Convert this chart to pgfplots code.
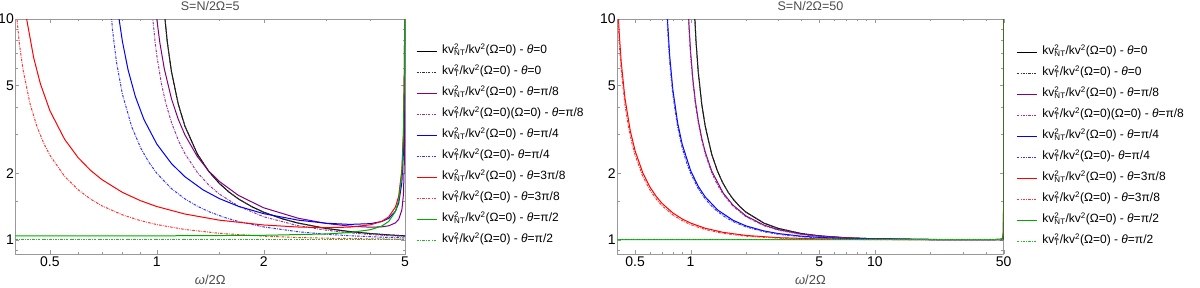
\documentclass[border=0pt]{standalone}
\usepackage{fontspec}
\setmainfont{Liberation Sans}
\usepackage{pgfplots}
\pgfplotsset{compat=1.18}
\definecolor{dmy}{rgb}{0.31,0.62,0.93}
\definecolor{mpurple}{rgb}{0.5,0,0.5}
\definecolor{mgreen}{rgb}{0,0.667,0}
\definecolor{dblack}{rgb}{0.2,0.2,0.2}
\colorlet{dpurple}{mpurple!80!white}
\colorlet{dblue}{blue!80!white}
\colorlet{dred}{red!80!white}
\colorlet{dgreen}{mgreen!85!white}
\newcommand{\NT}{kv{\ooalign{\textsuperscript{2}\cr\textsubscript{NT}\cr}}}
\newcommand{\TT}{kv{\ooalign{\textsuperscript{2}\cr\textsubscript{T}\cr}}}
\newcommand{\kvz}{/kv\textsuperscript{2}(Ω=0)}
\newcommand{\thet}{\textit{θ}}
\tikzset{
  sl/.style={line width=1pt, color=dmy, color=#1},
  dl/.style={line width=1pt, color=dmy, color=#1, dash pattern=on 2.5pt off 1.2pt on 0.7pt off 1.2pt},
}
\begin{document}
\begin{tikzpicture}
\begin{axis}[at={(15.5pt,33pt)}, anchor=south west,
    scale only axis, xmode=log, ymode=log,
    width=389.5pt, height=235pt,
    xmin=0.4, xmax=5, ymin=0.862, ymax=10,
    ytick={1,2,5,10}, yticklabels={1,2,5,10},
    minor ytick={0.9,1.5,3,4,6,7,8,9},
    xtick={0.5,1,2,5}, xticklabels={0.5,1,2,5},
    minor xtick={0.6,0.7,0.8,0.9,1.5,3,4},
    tick label style={font=\fontsize{14}{16}\selectfont},
    yticklabel style={inner sep=1.5pt},
    xticklabel style={inner sep=2.5pt},
    axis line style={black!40},
    tick style={black!40},
    major tick length=4pt, minor tick length=2.5pt,
    xticklabel pos=bottom, yticklabel pos=left,
    title style={font=\fontsize{12.5}{14}\selectfont, text=black!70, at={(0.5,1)}, anchor=base, yshift=2.5pt},
    xlabel style={font=\fontsize{13}{15}\selectfont, text=black!70, at={(0.5,0)}, anchor=base, yshift=-30pt},
    xlabel={\textit{ω}/2Ω},
    title={S=N/2Ω=5},
    legend cell align=left,
    legend image code/.code={\draw[#1] (0pt,0pt) -- (20pt,0pt);},
    legend style={draw=none, fill=none, anchor=north west, inner sep=0pt,
      row sep=8pt, column sep=5pt, font=\fontsize{12}{14}\selectfont,
      nodes={inner sep=0pt, text height=9pt, text depth=4pt},
      at={(1.0283,0.8906)}}]
\addplot[sl=black] coordinates {(1.03,17.42)(1.05,10.76)(1.07,7.90)(1.1,5.762)(1.15,4.101)(1.2,3.273)(1.3,2.449)(1.4,2.042)(1.5,1.8)(1.6,1.641)(1.7,1.529)(1.85,1.413)(2,1.333)(2.25,1.246)(2.5,1.190)(3,1.125)(3.5,1.089)(4,1.0667)(4.5,1.052)(5,1.0417)};
\addlegendentry{\NT\kvz{} - \thet=0}
\addplot[dl=dblack] coordinates {(1.03,17.42)(1.05,10.76)(1.07,7.90)(1.1,5.762)(1.15,4.101)(1.2,3.273)(1.3,2.449)(1.4,2.042)(1.5,1.8)(1.6,1.641)(1.7,1.529)(1.85,1.413)(2,1.333)(2.25,1.246)(2.5,1.190)(3,1.125)(3.5,1.089)(4,1.0667)(4.5,1.052)(5,1.0417)};
\addlegendentry{\TT\kvz{} - \thet=0}
\addplot[sl=mpurple] coordinates {(0.98,13.99)(1.0,9.984)(1.02,7.805)(1.05,5.943)(1.1,4.348)(1.15,3.505)(1.2,2.986)(1.3,2.385)(1.4,2.050)(1.5,1.8375)(1.7,1.5867)(2,1.396)(2.5,1.2519)(3,1.1858)(3.5,1.1525)(4,1.140)(4.3,1.1443)(4.5,1.157)(4.7,1.1926)(4.8,1.2376)(4.9,1.366)(4.95,1.607)(4.98,2.293)(4.99,3.411)(4.995,5.625)(4.998,12.24)};
\addlegendentry{\NT\kvz{} - \thet=π/8}
\addplot[dl=dpurple] coordinates {(0.95,18.44)(0.97,10.77)(0.99,7.745)(1.0,6.828)(1.03,5.116)(1.06,4.161)(1.1,3.395)(1.15,2.820)(1.2,2.455)(1.3,2.020)(1.4,1.771)(1.5,1.611)(1.7,1.419)(2,1.271)(2.5,1.158)(3,1.105)(3.5,1.075)(4,1.056)(4.5,1.044)(5,1.035)};
\addlegendentry{\TT\kvz(Ω=0) - \thet=π/8}
\addplot[sl=blue] coordinates {(0.76,15.36)(0.78,10.43)(0.8,7.924)(0.83,5.884)(0.87,4.459)(0.92,3.506)(1.0,2.714)(1.1,2.2125)(1.2,1.930)(1.35,1.683)(1.5,1.5367)(1.7,1.4166)(2,1.313)(2.5,1.2273)(3,1.188)(3.5,1.1738)(4,1.1832)(4.3,1.2098)(4.5,1.250)(4.7,1.347)(4.8,1.467)(4.9,1.820)(4.95,2.510)(4.98,4.556)(4.99,7.953)(4.995,14.74)};
\addlegendentry{\NT\kvz{} - \thet=π/4}
\addplot[dl=dblue] coordinates {(0.73,16.2)(0.75,9.0)(0.77,6.382)(0.8,4.571)(0.85,3.247)(0.9,2.613)(0.95,2.242)(1.0,2)(1.1,1.704)(1.2,1.532)(1.3,1.420)(1.4,1.342)(1.55,1.263)(1.7,1.209)(2,1.143)(2.5,1.087)(3,1.059)(3.5,1.043)(4,1.032)(4.5,1.025)(5,1.020)};
\addlegendentry{\TT\kvz- \thet=π/4}
\addplot[sl=red] coordinates {(0.42,13.37)(0.43,9.991)(0.45,6.684)(0.47,5.093)(0.5,3.843)(0.55,2.852)(0.6,2.359)(0.65,2.0664)(0.7,1.8744)(0.8,1.6395)(0.9,1.5028)(1.0,1.4143)(1.2,1.3081)(1.5,1.2268)(2,1.1667)(2.5,1.1421)(3,1.1346)(3.5,1.1411)(4,1.1692)(4.3,1.2117)(4.5,1.270)(4.7,1.4073)(4.8,1.5777)(4.9,2.084)(4.95,3.090)(4.98,6.097)(4.99,11.10)};
\addlegendentry{\NT\kvz{} - \thet=3π/8}
\addplot[dl=dred] coordinates {(0.4,11.81)(0.41,7.763)(0.42,5.889)(0.44,4.106)(0.46,3.248)(0.48,2.744)(0.5,2.414)(0.55,1.938)(0.6,1.686)(0.65,1.5305)(0.7,1.426)(0.8,1.297)(0.9,1.2207)(1,1.1716)(1.2,1.1132)(1.5,1.0696)(2,1.038)(2.5,1.024)(3,1.0165)(4,1.0092)(5,1.0059)};
\addlegendentry{\TT\kvz{} - \thet=3π/8}
\addplot[sl=mgreen] coordinates {(0.4,1.0403)(1,1.0417)(2,1.0476)(3,1.0625)(3.5,1.0784)(4,1.111)(4.3,1.1536)(4.5,1.2105)(4.7,1.3436)(4.8,1.510)(4.9,2.010)(4.95,3.010)(4.98,6.010)(4.99,11.01)};
\addlegendentry{\NT\kvz{} - \thet=π/2}
\addplot[dl=dgreen] coordinates {(0.4,1)(5,1)};
\addlegendentry{\TT\kvz{} - \thet=π/2}
\end{axis}
\begin{axis}[at={(617.3pt,33pt)}, anchor=south west,
    scale only axis, xmode=log, ymode=log,
    width=386.3pt, height=235pt,
    xmin=0.4, xmax=50, ymin=0.862, ymax=10,
    ytick={1,2,5,10}, yticklabels={1,2,5,10},
    minor ytick={0.9,1.5,3,4,6,7,8,9},
    xtick={0.5,1,5,10,50}, xticklabels={0.5,1,5,10,50},
    minor xtick={0.6,0.7,0.8,0.9,2,3,4,6,7,8,9,20,30,40},
    tick label style={font=\fontsize{14}{16}\selectfont},
    yticklabel style={inner sep=1.5pt},
    xticklabel style={inner sep=2.5pt},
    axis line style={black!40},
    tick style={black!40},
    major tick length=4pt, minor tick length=2.5pt,
    xticklabel pos=bottom, yticklabel pos=left,
    title style={font=\fontsize{12.5}{14}\selectfont, text=black!70, at={(0.5,1)}, anchor=base, yshift=2.5pt},
    xlabel style={font=\fontsize{13}{15}\selectfont, text=black!70, at={(0.5,0)}, anchor=base, yshift=-30pt},
    xlabel={\textit{ω}/2Ω},
    title={S=N/2Ω=50},
    legend cell align=left,
    legend image code/.code={\draw[#1] (0pt,0pt) -- (20pt,0pt);},
    legend style={draw=none, fill=none, anchor=north west, inner sep=0pt,
      row sep=8pt, column sep=5pt, font=\fontsize{12}{14}\selectfont,
      nodes={inner sep=0pt, text height=9pt, text depth=4pt},
      at={(1.0328,0.8864)}}]
\addplot[sl=black] coordinates {(1.03,17.42)(1.05,10.76)(1.07,7.90)(1.1,5.762)(1.15,4.101)(1.2,3.273)(1.3,2.449)(1.4,2.042)(1.5,1.8)(1.6,1.641)(1.7,1.529)(1.85,1.413)(2,1.333)(2.5,1.190)(3,1.125)(4,1.0667)(5,1.0417)(7,1.0208)(10,1.0101)(20,1.0025)(50,1.0004)};
\addlegendentry{\NT\kvz{} - \thet=0}
\addplot[dl=dblack] coordinates {(1.03,17.42)(1.05,10.76)(1.07,7.90)(1.1,5.762)(1.15,4.101)(1.2,3.273)(1.3,2.449)(1.4,2.042)(1.5,1.8)(1.6,1.641)(1.7,1.529)(1.85,1.413)(2,1.333)(2.5,1.190)(3,1.125)(4,1.0667)(5,1.0417)(7,1.0208)(10,1.0101)(20,1.0025)(50,1.0004)};
\addlegendentry{\TT\kvz{} - \thet=0}
\addplot[sl=mpurple] coordinates {(0.96,14.30)(0.97,11.30)(0.98,9.387)(1.0,7.085)(1.03,5.278)(1.06,4.276)(1.1,3.476)(1.15,2.879)(1.2,2.5014)(1.3,2.052)(1.5,1.6307)(1.7,1.4334)(2,1.2815)(2.5,1.1653)(3,1.1103)(4,1.0602)(5,1.0384)(7,1.0199)(10,1.0101)(20,1.003)(30,1.0016)(40,1.0013)(45,1.0015)(48,1.0022)(49,1.0033)(49.5,1.0053)(49.9,1.0195)(49.99,1.162)(49.999,2.536)(49.9999,16.2)};
\addlegendentry{\NT\kvz{} - \thet=π/8}
\addplot[dl=dpurple] coordinates {(0.95,18.44)(0.97,10.77)(0.99,7.745)(1.0,6.828)(1.03,5.116)(1.06,4.161)(1.1,3.395)(1.15,2.820)(1.2,2.455)(1.3,2.020)(1.4,1.771)(1.5,1.611)(1.7,1.419)(2,1.271)(2.5,1.158)(3,1.105)(4,1.056)(5,1.035)(7,1.0177)(10,1.0086)(20,1.0021)(50,1.0003)};
\addlegendentry{\TT\kvz(Ω=0) - \thet=π/8}
\addplot[sl=blue] coordinates {(0.74,12.61)(0.75,9.751)(0.77,6.817)(0.8,4.823)(0.85,3.389)(0.9,2.709)(1.0,2.0577)(1.1,1.7455)(1.2,1.5642)(1.4,1.3652)(1.7,1.2252)(2,1.1554)(2.5,1.0963)(3,1.0664)(4,1.0377)(5,1.0247)(7,1.0134)(10,1.0073)(20,1.0026)(30,1.0017)(40,1.0017)(45,1.0023)(48,1.0042)(49,1.0073)(49.5,1.0132)(49.9,1.0568)(49.99,1.525)(49.999,6.16)(49.9995,11.3)};
\addlegendentry{\NT\kvz{} - \thet=π/4}
\addplot[dl=dblue] coordinates {(0.73,16.2)(0.75,9.0)(0.77,6.382)(0.8,4.571)(0.85,3.247)(0.9,2.613)(0.95,2.242)(1.0,2)(1.1,1.704)(1.2,1.532)(1.3,1.420)(1.4,1.342)(1.55,1.263)(1.7,1.209)(2,1.143)(2.5,1.087)(3,1.059)(4,1.032)(5,1.0204)(7,1.0103)(10,1.005)(20,1.00125)(50,1.0002)};
\addlegendentry{\TT\kvz- \thet=π/4}
\addplot[sl=red] coordinates {(0.4,13.33)(0.405,10.385)(0.41,8.549)(0.42,6.393)(0.44,4.384)(0.47,3.126)(0.5,2.5236)(0.55,2.0097)(0.6,1.7388)(0.65,1.5729)(0.7,1.4616)(0.8,1.3235)(0.9,1.2425)(1.0,1.1901)(1.2,1.1276)(1.5,1.0805)(2,1.0459)(3,1.0217)(5,1.0092)(10,1.0033)(20,1.0015)(30,1.0013)(40,1.0016)(45,1.0026)(48,1.0055)(49,1.0101)(49.5,1.0192)(49.9,1.090)(49.99,1.873)(49.999,9.68)(49.9995,18.3)};
\addlegendentry{\NT\kvz{} - \thet=3π/8}
\addplot[dl=dred] coordinates {(0.4,11.81)(0.41,7.763)(0.42,5.889)(0.44,4.106)(0.46,3.248)(0.48,2.744)(0.5,2.414)(0.55,1.938)(0.6,1.686)(0.65,1.5305)(0.7,1.426)(0.8,1.297)(0.9,1.2207)(1,1.1716)(1.2,1.1132)(1.5,1.0696)(2,1.038)(3,1.0165)(5,1.0059)(10,1.0015)(50,1.0001)};
\addlegendentry{\TT\kvz{} - \thet=3π/8}
\addplot[sl=mgreen] coordinates {(0.4,1.0004)(10,1.0004)(30,1.0006)(40,1.0011)(45,1.0021)(48,1.0051)(49,1.0101)(49.5,1.0201)(49.9,1.1001)(49.99,2.0)(49.995,3.0)(49.999,11)};
\addlegendentry{\NT\kvz{} - \thet=π/2}
\addplot[dl=dgreen] coordinates {(0.4,1)(50,1)};
\addlegendentry{\TT\kvz{} - \thet=π/2}
\end{axis}
\pgfresetboundingbox
\path[use as bounding box] (0,0) rectangle (1200pt,287pt);
\end{tikzpicture}
\end{document}
